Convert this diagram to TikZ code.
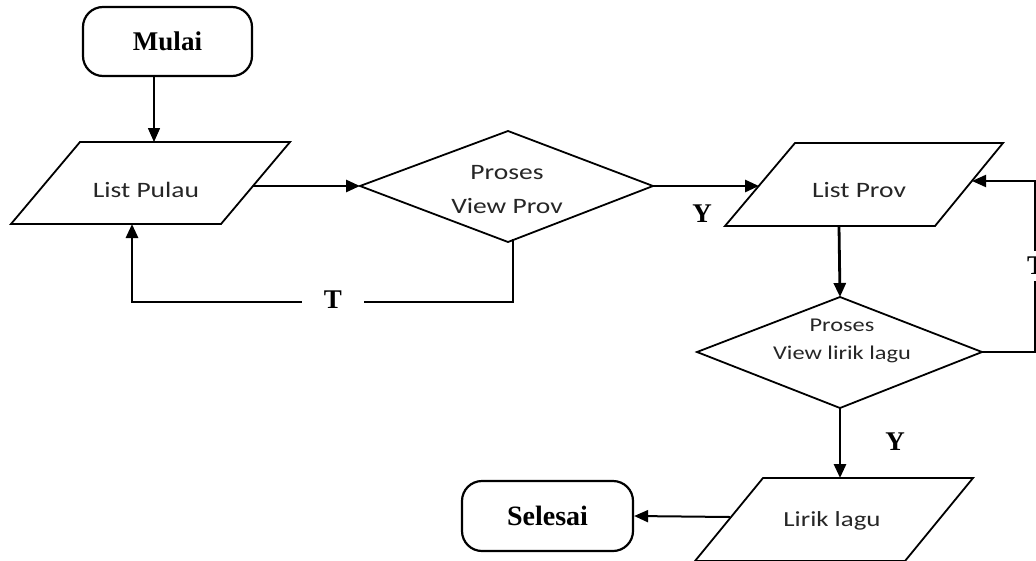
\documentclass[tikz,border=0pt]{standalone}
\usepackage{fontspec}
\setmainfont{Liberation Serif}
\newfontfamily\calfont[FakeStretch=1.25]{Carlito}
\usetikzlibrary{arrows.meta}
\tikzset{
  term/.style={draw, line width=2.2pt, rounded corners=20pt, inner sep=0pt},
  shp/.style={draw, line width=1.8pt, line join=miter},
  conn/.style={line width=2.8pt, -{Triangle[length=14pt,width=12pt]}},
  thinconn/.style={line width=1.5pt, -{Triangle[length=14pt,width=12pt]}},
  lbl/.style={inner sep=0pt, font=\bfseries\fontsize{27}{30}\selectfont},
  big/.style={inner sep=0pt, align=center, text=black!85, font=\calfont\fontsize{22}{34}\selectfont},
  small/.style={inner sep=0pt, align=center, text=black!85, font=\calfont\fontsize{19.5}{28}\selectfont},
}
\begin{document}
\begin{tikzpicture}[x=1pt,y=-1pt]
\useasboundingbox (0,0) rectangle (1036,560);
\fill[white] (0,0) rectangle (1036,560);

% Terminals
\node[term, minimum width=169pt, minimum height=69pt, font=\bfseries\fontsize{27}{30}\selectfont] (mulai) at (167.5,41.5) {Mulai};
\node[term, minimum width=171pt, minimum height=70pt, font=\bfseries\fontsize{28}{30}\selectfont] (selesai) at (547.5,516) {Selesai};

% List Pulau
\coordinate (lpTL) at (80,142); \coordinate (lpTR) at (290,142);
\coordinate (lpBR) at (221,224); \coordinate (lpBL) at (11,224);
\draw[shp] (lpTL) -- (lpTR) -- (lpBR) -- (lpBL) -- cycle;
\node[big] (listpulau) at (146,190) {List Pulau};

% Diamond 1
\coordinate (d1L) at (360,186); \coordinate (d1R) at (653,186);
\coordinate (d1T) at (508,131); \coordinate (d1B) at (508,242);
\draw[shp] (d1L) -- (d1T) -- (d1R) -- (d1B) -- cycle;
\node[big] (viewprov) at (507,190) {Proses\\View Prov};

% List Prov
\coordinate (pvTL) at (795,143); \coordinate (pvTR) at (1003,143);
\coordinate (pvBR) at (935,226); \coordinate (pvBL) at (725,226);
\draw[shp] (pvTL) -- (pvTR) -- (pvBR) -- (pvBL) -- cycle;
\node[big] (listprov) at (859,190) {List Prov};

% Diamond 2
\coordinate (d2L) at (697,352); \coordinate (d2R) at (982,352);
\coordinate (d2T) at (840,297); \coordinate (d2B) at (840,408);
\draw[shp] (d2L) -- (d2T) -- (d2R) -- (d2B) -- cycle;
\node[small] (viewlirik) at (842,341) {Proses\\View lirik lagu};

% Lirik lagu
\coordinate (llTL) at (763,478); \coordinate (llTR) at (973,478);
\coordinate (llBR) at (905,561); \coordinate (llBL) at (695,561);
\draw[shp] (llTL) -- (llTR) -- (llBR) -- (llBL) -- cycle;
\node[font=\calfont\fontsize{21.5}{28}\selectfont, text=black!85, inner sep=0pt] (liriklagu) at (832,521) {Lirik lagu};

% connector points
\coordinate (m1) at (154,76);   \coordinate (m2) at (154,142);
\coordinate (lpR) at (253,186);
\coordinate (d1b) at (513,239); \coordinate (c1) at (513,302);
\coordinate (c2) at (132,302);  \coordinate (lpB) at (132,224);
\coordinate (pvL) at (759,186);
\coordinate (pvB) at (839,226);
\coordinate (c3) at (1035,352); \coordinate (c4) at (1035,181);
\coordinate (pvR) at (972,181);
\coordinate (llL) at (730,517);

% connectors
\draw[thinconn] (m1) -- (m2);
\draw[conn] (lpR) -- (d1L);
\draw[conn] (d1b) -- (c1) -- (c2) -- (lpB);
\node[lbl, fill=white, inner xsep=22pt, inner ysep=4pt] (t1) at (333,300) {T};
\draw[conn] (d1R) -- (pvL);
\node[lbl] (y1) at (702,214) {Y};
\draw[conn] (pvB) -- (d2T);
\draw[line width=2pt, -{Triangle[length=14pt,width=12pt]}] (d2R) -- (c3) -- (c4) -- (pvR);
\node[lbl, fill=white, inner xsep=3pt, inner ysep=6pt] (t2) at (1036,266) {T};
\draw[conn] (d2B) -- (llTL -| d2B);
\node[lbl] (y2) at (895,442) {Y};
\draw[line width=2pt, -{Triangle[length=14pt,width=12pt]}] (llL) -- (selesai.east);
\end{tikzpicture}
\end{document}
